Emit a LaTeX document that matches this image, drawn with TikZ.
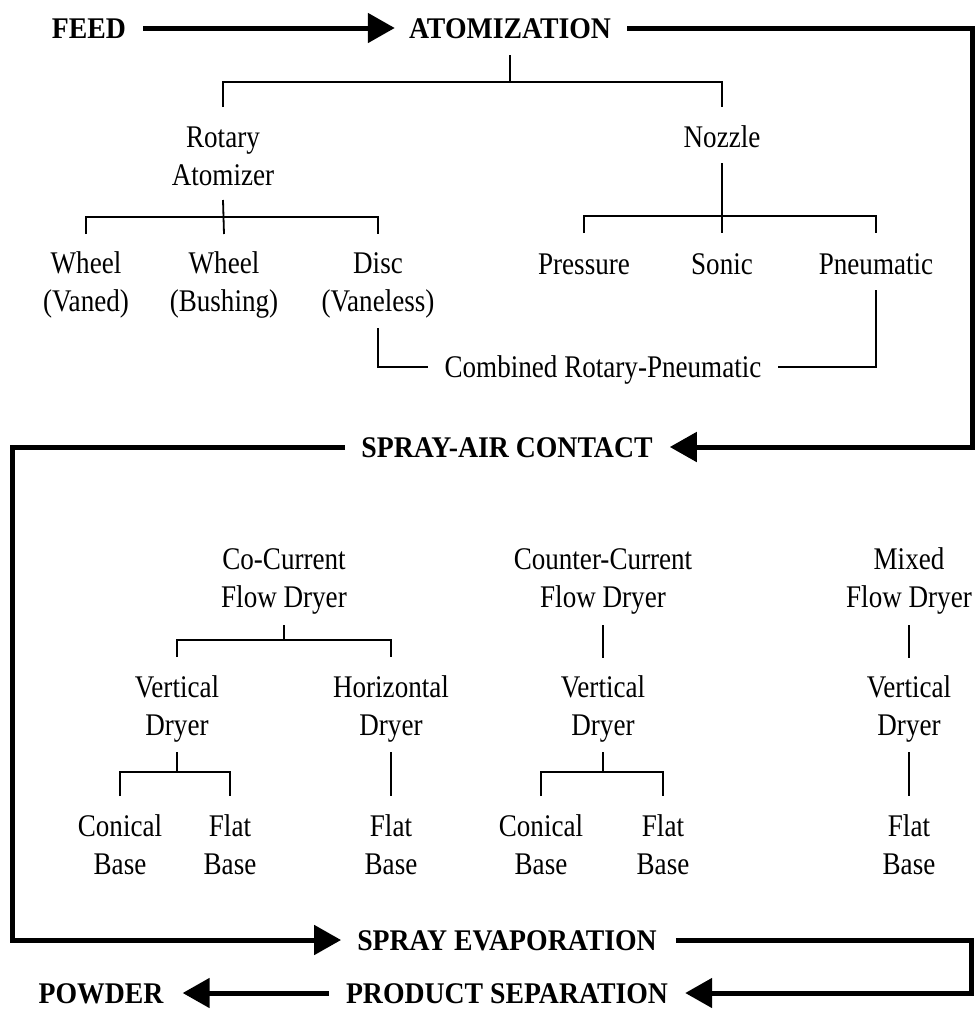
\documentclass[tikz,border=0pt]{standalone}
\usepackage{fontspec}
\setmainfont{Liberation Serif}[FakeStretch=0.86]
\newfontfamily\headfont{Liberation Serif}[FakeStretch=0.925]
\usetikzlibrary{arrows.meta}
\begin{document}
\begin{tikzpicture}[x=1pt,y=-1pt,
  lbl/.style={inner sep=0pt, font=\fontsize{31.5}{38.5}\selectfont, align=center, anchor=base},
  head/.style={inner sep=0pt, font=\headfont\fontsize{30}{36}\selectfont\bfseries, anchor=base, text height=20pt, text depth=0pt},
  tl/.style={line width=1.8pt},
  big/.style={line width=5pt, -{Triangle[length=27pt,width=29pt]}}]
\useasboundingbox (0,0) rectangle (976,1018);
% main stages
\node[head] (feed) at (89,38) {FEED};
\node[head] (atom) at (510,38) {ATOMIZATION};
\node[head] (sac) at (507,457) {SPRAY-AIR CONTACT};
\node[head] (sevap) at (507,950) {SPRAY EVAPORATION};
\node[head] (psep) at (507,1003) {PRODUCT SEPARATION};
\node[head] (powder) at (101,1003) {POWDER};
\coordinate (c1) at (972,447);
\coordinate (c2) at (12,940);
\coordinate (c3) at (971,993);
\draw[big] ([xshift=17pt]feed.east) -- ([xshift=-14pt]atom.west);
\draw[big] ([xshift=16pt]atom.east) -| (c1) -- ([xshift=17pt]sac.east);
\draw[big] ([xshift=-16pt]sac.west) -| (c2) -- ([xshift=-16pt]sevap.west);
\draw[big] ([xshift=19pt]sevap.east) -| (c3) -- ([xshift=17pt]psep.east);
\draw[big] ([xshift=-17pt]psep.west) -- ([xshift=19pt]powder.east);
% atomization tree (base anchor = baseline of last line)
\node[lbl] (rot) at (223,185.5) {Rotary\\Atomizer};
\node[lbl] (noz) at (722,147) {Nozzle};
\node[lbl] (wv) at (86,311.5) {Wheel\\(Vaned)};
\node[lbl] (wb) at (224,311.5) {Wheel\\(Bushing)};
\node[lbl] (disc) at (378,311.5) {Disc\\(Vaneless)};
\node[lbl] (pres) at (584,274) {Pressure};
\node[lbl] (son) at (722,274) {Sonic};
\node[lbl] (pneu) at (876,274) {Pneumatic};
\node[lbl, text height=20pt, text depth=0pt] (comb) at (603,377) {Combined Rotary-Pneumatic};
\draw[tl] (atom.south |- 0,55) -- (atom.south |- 0,82);
\draw[tl] (rot.north |- 0,107) |- (noz.north |- 0,82) -- (noz.north |- 0,107);
\draw[tl] (rot.south |- 0,200) -- (wb.north |- 0,234);
\draw[tl] (wv.north |- 0,234) |- (disc.north |- 0,217) -- (disc.north |- 0,234);
\draw[tl] (noz.south |- 0,163) -- (son.north |- 0,233);
\draw[tl] (pres.north |- 0,233) |- (pneu.north |- 0,216) -- (pneu.north |- 0,233);
\draw[tl] (disc.south |- 0,328) |- ([xshift=-16pt]comb.west);
\draw[tl] (pneu.south |- 0,290) |- ([xshift=16pt]comb.east);
% spray-air contact tree
\node[lbl] (cocur) at (284,607.5) {Co-Current\\Flow Dryer};
\node[lbl] (cntcur) at (603,607.5) {Counter-Current\\Flow Dryer};
\node[lbl] (mixed) at (909,607.5) {Mixed\\Flow Dryer};
\node[lbl] (vd1) at (177,735.5) {Vertical\\Dryer};
\node[lbl] (hd) at (391,735.5) {Horizontal\\Dryer};
\node[lbl] (vd2) at (603,735.5) {Vertical\\Dryer};
\node[lbl] (vd3) at (909,735.5) {Vertical\\Dryer};
\node[lbl] (cb1) at (120,874.5) {Conical\\Base};
\node[lbl] (fb1) at (230,874.5) {Flat\\Base};
\node[lbl] (fb2) at (391,874.5) {Flat\\Base};
\node[lbl] (cb2) at (541,874.5) {Conical\\Base};
\node[lbl] (fb3) at (663,874.5) {Flat\\Base};
\node[lbl] (fb4) at (909,874.5) {Flat\\Base};
\draw[tl] (cocur.south |- 0,625) -- (cocur.south |- 0,640);
\draw[tl] (vd1.north |- 0,657) |- (hd.north |- 0,640) -- (hd.north |- 0,657);
\draw[tl] (cntcur.south |- 0,625) -- (vd2.north |- 0,658);
\draw[tl] (mixed.south |- 0,625) -- (vd3.north |- 0,658);
\draw[tl] (vd1.south |- 0,752) -- (vd1.south |- 0,772);
\draw[tl] (cb1.north |- 0,796) |- (fb1.north |- 0,772) -- (fb1.north |- 0,796);
\draw[tl] (hd.south |- 0,752) -- (fb2.north |- 0,796);
\draw[tl] (vd2.south |- 0,752) -- (vd2.south |- 0,772);
\draw[tl] (cb2.north |- 0,796) |- (fb3.north |- 0,772) -- (fb3.north |- 0,796);
\draw[tl] (vd3.south |- 0,752) -- (fb4.north |- 0,796);
\end{tikzpicture}
\end{document}
